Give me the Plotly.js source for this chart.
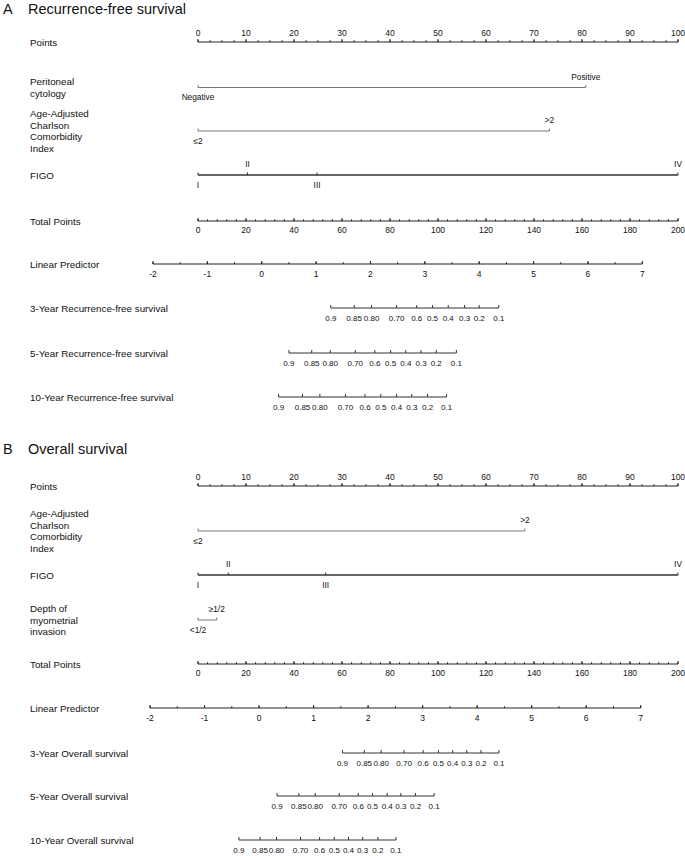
<!DOCTYPE html>
<html>
<head>
<meta charset="utf-8">
<script src="https://cdn.plot.ly/plotly-3.0.1.min.js"></script>
<style>
  body { margin: 0; background: #fff; }
  #nomogram { width: 685px; height: 856px; }
</style>
</head>
<body>
<div id="nomogram"></div>
<script>
// Scale ticks shared by both nomograms
const pointsTicks = [0, 10, 20, 30, 40, 50, 60, 70, 80, 90, 100];
const totalTicks = [0, 20, 40, 60, 80, 100, 120, 140, 160, 180, 200];
const lpTicks = [-2, -1, 0, 1, 2, 3, 4, 5, 6, 7];
const survLabels = ['0.9', '0.85', '0.80', '0.70', '0.6', '0.5', '0.4', '0.3', '0.2', '0.1'];
const figoLevels = ['I', 'II', 'III', 'IV'];
const acciLevels = ['\u22642', '>2'];

// A - Recurrence-free survival
const rfsCytologyLevels = ['Negative', 'Positive'];
const rfsCytologyPts = [0, 80.8];
const rfsAcciPts = [0, 73.2];
const rfsFigoPts = [0, 10.3, 24.8, 100];
const rfsLpRange = [-1.172, 7.656];   // linear predictor at 0 and 200 total points
const rfs3yLp = [1.27, 1.70, 2.02, 2.48, 2.85, 3.14, 3.43, 3.73, 4.00, 4.36];
const rfs5yLp = [0.50, 0.92, 1.26, 1.72, 2.08, 2.37, 2.65, 2.93, 3.21, 3.58];
const rfs10yLp = [0.31, 0.75, 1.07, 1.54, 1.90, 2.19, 2.48, 2.76, 3.05, 3.40];

// B - Overall survival
const osAcciPts = [0, 68.1];
const osFigoPts = [0, 6.3, 26.6, 100];
const osDepthLevels = ['<1/2', '\u22651/2'];
const osDepthPts = [0, 3.9];
const osLpRange = [-1.12, 7.684];
const os3yLp = [1.53, 1.93, 2.24, 2.66, 3.01, 3.29, 3.55, 3.81, 4.07, 4.40];
const os5yLp = [0.33, 0.73, 1.03, 1.47, 1.82, 2.08, 2.35, 2.60, 2.87, 3.21];
const os10yLp = [-0.37, 0.02, 0.32, 0.76, 1.11, 1.38, 1.64, 1.90, 2.18, 2.51];

const FONT = 'Liberation Sans, Arial, sans-serif';
const TXT = '#111';

const traces = [];
const annotations = [];

function addLine(xs, y, color, width) {
  traces.push({
    type: 'scatter', mode: 'lines', hoverinfo: 'skip',
    x: [Math.min(...xs), Math.max(...xs)], y: [y, y],
    line: { color: color, width: width }
  });
}

function addTicks(xs, y, len, color) {
  const tx = [], ty = [];
  xs.forEach(v => { tx.push(v, v, null); ty.push(y, y - len, null); });
  traces.push({
    type: 'scatter', mode: 'lines', hoverinfo: 'skip',
    x: tx, y: ty, line: { color: color, width: 1 }
  });
}

function addText(xs, ys, texts, size) {
  traces.push({
    type: 'scatter', mode: 'text', hoverinfo: 'skip',
    x: xs, y: ys, text: texts, textposition: 'middle center',
    textfont: { family: FONT, size: size, color: TXT }
  });
}

// one annotation per text line so the line spacing can follow the original
function rowLabel(lines, y) {
  const gap = 11.8;
  const top = y - gap * (lines.length - 1) / 2;
  lines.forEach((t, i) => {
    annotations.push({
      xref: 'paper', yref: 'y', x: 29 / 685, y: top + i * gap,
      xanchor: 'left', yanchor: 'middle', align: 'left',
      text: t, showarrow: false, borderpad: 0,
      font: { family: FONT, size: 9.8, color: TXT }
    });
  });
}

function title(letter, text, y) {
  [[2, letter], [27, text]].forEach(([px, t]) => {
    annotations.push({
      xref: 'paper', yref: 'y', x: px / 685, y: y,
      xanchor: 'left', yanchor: 'middle', text: t, showarrow: false, borderpad: 0,
      font: { family: FONT, size: 14.5, color: TXT }
    });
  });
}

// evenly spaced minor ticks for an axis
function minor(from, to, step) {
  const out = [];
  for (let v = from; v <= to + 1e-9; v += step) out.push(v);
  return out;
}

function pointsRow(y) {
  rowLabel(['Points'], y);
  addLine(pointsTicks, y, '#222', 1);
  addTicks(minor(0, 100, 2.5), y, 1.8, '#222');
  addTicks(pointsTicks, y, 3, '#222');
  addText(pointsTicks, pointsTicks.map(() => y - 8.5), pointsTicks.map(String), 8.5);
}

function factorRow(label, levels, pts, y, color, width) {
  rowLabel(label, y);
  addLine(pts, y, color, width);
  addTicks(pts, y, 2.5, color);
  // levels alternate below / above the line
  addText(pts, pts.map((_, i) => i % 2 === 0 ? y + 10.5 : y - 10), levels, 8.3);
}

function totalRow(y) {
  const toPts = tp => tp / 2;
  rowLabel(['Total Points'], y);
  addLine(totalTicks.map(toPts), y, '#222', 1);
  addTicks(minor(0, 200, 4).map(toPts), y, 1.8, '#222');
  addTicks(totalTicks.map(toPts), y, 3, '#222');
  addText(totalTicks.map(toPts), totalTicks.map(() => y + 9.5), totalTicks.map(String), 8.5);
}

function lpRow(range, y) {
  const toPts = lp => (lp - range[0]) / (range[1] - range[0]) * 100;
  rowLabel(['Linear Predictor'], y);
  addLine(lpTicks.map(toPts), y, '#222', 1);
  addTicks(minor(-2, 7, 0.5).map(toPts), y, 1.8, '#222');
  addTicks(lpTicks.map(toPts), y, 3, '#222');
  addText(lpTicks.map(toPts), lpTicks.map(() => y + 10.5), lpTicks.map(String), 8.5);
}

function survRow(label, range, lps, y) {
  const toPts = lp => (lp - range[0]) / (range[1] - range[0]) * 100;
  const xs = lps.map(toPts);
  rowLabel([label], y);
  addLine(xs, y, '#333', 1);
  addTicks(xs, y, 3, '#333');
  addText(xs, xs.map(() => y + 10.5), survLabels, 8);
}

// ---- A ----
title('A', 'Recurrence-free survival', 8.5);
pointsRow(42);
factorRow(['Peritoneal', 'cytology'], rfsCytologyLevels, rfsCytologyPts, 87.5, '#777', 1);
factorRow(['Age-Adjusted', 'Charlson', 'Comorbidity', 'Index'], acciLevels, rfsAcciPts, 131, '#777', 1);
factorRow(['FIGO'], figoLevels, rfsFigoPts, 175, '#333', 1.6);
totalRow(221);
lpRow(rfsLpRange, 264);
survRow('3-Year Recurrence-free survival', rfsLpRange, rfs3yLp, 308);
survRow('5-Year Recurrence-free survival', rfsLpRange, rfs5yLp, 353);
survRow('10-Year Recurrence-free survival', rfsLpRange, rfs10yLp, 397);

// ---- B ----
title('B', 'Overall survival', 448.5);
pointsRow(486);
factorRow(['Age-Adjusted', 'Charlson', 'Comorbidity', 'Index'], acciLevels, osAcciPts, 531, '#777', 1);
factorRow(['FIGO'], figoLevels, osFigoPts, 575, '#333', 1.6);
factorRow(['Depth of', 'myometrial', 'invasion'], osDepthLevels, osDepthPts, 620, '#777', 1);
totalRow(664);
lpRow(osLpRange, 708);
survRow('3-Year Overall survival', osLpRange, os3yLp, 753);
survRow('5-Year Overall survival', osLpRange, os5yLp, 796);
survRow('10-Year Overall survival', osLpRange, os10yLp, 840);

const layout = {
  width: 685,
  height: 856,
  margin: { l: 0, r: 0, t: 0, b: 0 },
  paper_bgcolor: '#fff',
  plot_bgcolor: '#fff',
  showlegend: false,
  // 0..100 points maps onto pixels 198..678
  xaxis: { range: [-198 / 4.8, (685 - 198) / 4.8], visible: false, fixedrange: true },
  yaxis: { range: [856, 0], visible: false, fixedrange: true },
  annotations: annotations
};

Plotly.newPlot('nomogram', traces, layout, { staticPlot: true, displayModeBar: false });
</script>
</body>
</html>
